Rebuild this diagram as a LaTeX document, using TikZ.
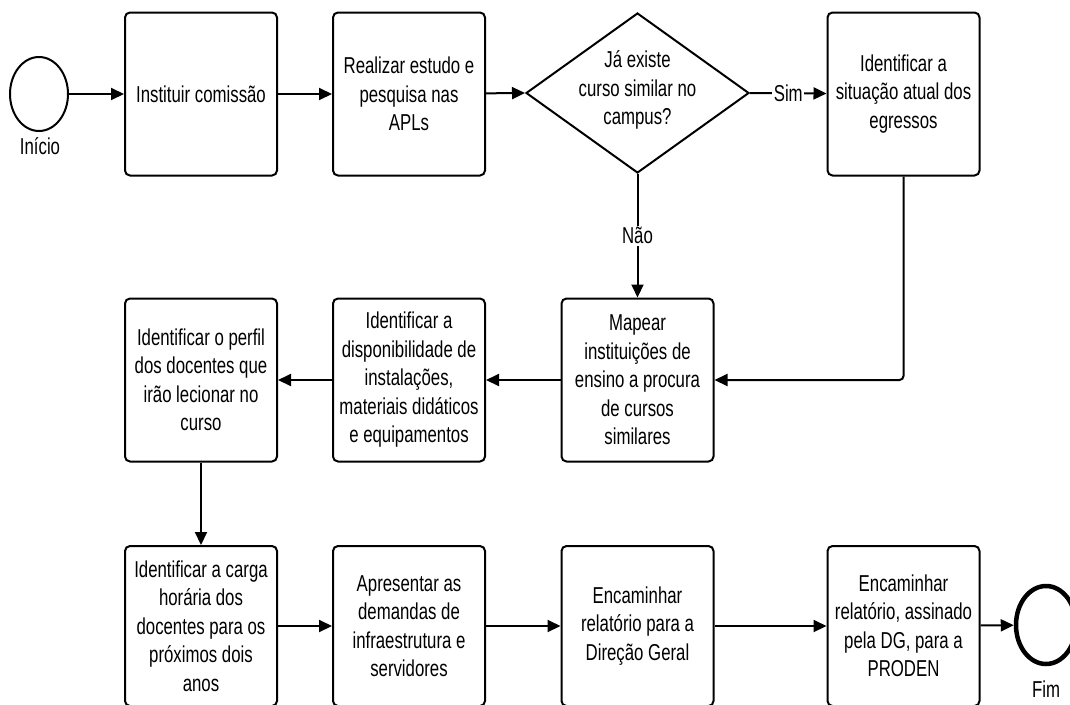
\documentclass[tikz,border=0pt]{standalone}
\usepackage{fontspec}
\setmainfont{Liberation Sans}[FakeStretch=0.73]
\usetikzlibrary{shapes.geometric,arrows.meta}
\begin{document}
\begin{tikzpicture}[x=1pt,y=-1pt,
  every node/.style={font=\fontsize{23}{28.5}\selectfont},
  box/.style={draw,line width=2pt,rounded corners=5pt,minimum width=152pt,minimum height=163pt,align=center,inner sep=0pt},
  arr/.style={line width=2pt,-{Triangle[length=13pt,width=12pt]}},
  lbl/.style={fill=white,inner sep=1.5pt},
  term/.style={draw,ellipse,inner sep=0pt}]
\useasboundingbox (0,0) rectangle (1070,704);
% terminals
\node[term,line width=2pt,minimum width=58pt,minimum height=74pt] (start) at (39,94) {};
\node at (40,146) {Início};
\node[term,line width=4.5pt,minimum width=60pt,minimum height=78pt] (fim) at (1046,625) {};
\node at (1046,689) {Fim};
% top row
\node[box] (b1) at (201,94) {Instituir comissão};
\node[box] (b2) at (409,94) {Realizar estudo e\\pesquisa nas\\APLs};
\node[draw,diamond,line width=2pt,minimum width=223pt,minimum height=160pt,inner sep=0pt] (d) at (637.5,93) {};
\node[align=center] (dt) at (637.5,90) {Já existe\\curso similar no\\campus?};
\node[box] (b4) at (903.5,94) {Identificar a\\situação atual dos\\egressos};
% middle row
\node[box] (m3) at (637.5,380) {Mapear\\instituições de\\ensino a procura\\de cursos\\similares};
\node[box] (m2) at (409,380) {Identificar a\\disponibilidade de\\instalações,\\materiais didáticos\\e equipamentos};
\node[box] (m1) at (201,380) {Identificar o perfil\\dos docentes que\\irão lecionar no\\curso};
% bottom row
\node[box,minimum height=160pt] (r1) at (201,626) {Identificar a carga\\horária dos\\docentes para os\\próximos dois\\anos};
\node[box,minimum height=160pt] (r2) at (409,626) {Apresentar as\\demandas de\\infraestrutura e\\servidores};
\node[box,minimum height=160pt] (r3) at (637.5,626) {Encaminhar\\relatório para a\\Direção Geral};
\node[box,minimum height=160pt] (r4) at (903.5,626) {Encaminhar\\relatório, assinado\\pela DG, para a\\PRODEN};
% connectors
\draw[arr] (start) -- (b1);
\draw[arr] (b1) -- (b2);
\draw[arr] (b2) -- (d.west);
\draw[arr] (d.east) -- node[lbl] {Sim} (b4);
\draw[arr] (d.south) -- node[lbl] {Não} (m3);
\draw[arr,rounded corners=4pt] (b4.south) |- (m3.east);
\draw[arr] (m3) -- (m2);
\draw[arr] (m2) -- (m1);
\draw[arr] (m1) -- (r1);
\draw[arr] (r1) -- (r2);
\draw[arr] (r2) -- (r3);
\draw[arr] (r3) -- (r4);
\draw[arr] (r4) -- (fim);
\end{tikzpicture}
\end{document}
